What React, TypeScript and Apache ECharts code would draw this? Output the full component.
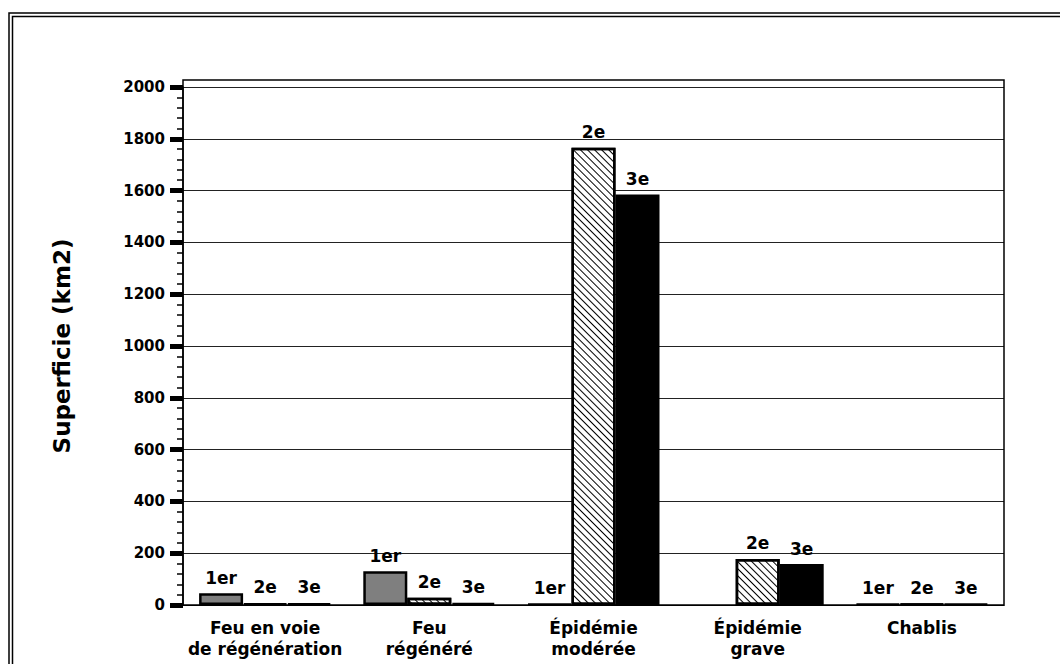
import React, { useEffect, useRef } from "react";
import * as echarts from "echarts";

const categories = [
  "Feu en voie\nde régénération",
  "Feu\nrégénéré",
  "Épidémie\nmodérée",
  "Épidémie\ngrave",
  "Chablis",
];
const seriesNames = ["1er", "2e", "3e"];
const values1er: (number | null)[] = [45, 130, 4, null, 4];
const values2e: (number | null)[] = [6, 28, 1765, 178, 4];
const values3e: (number | null)[] = [6, 8, 1585, 158, 4];
const yTicks = { min: 0, max: 2000, interval: 200 };
const yName = "Superficie (km2)";

const FONT = "DejaVu Sans";

export default function App() {
  const ref = useRef<HTMLDivElement>(null);
  useEffect(() => {
    document.body.style.margin = "0";
    const chart = echarts.init(ref.current!, null, { renderer: "svg" });
    const label = {
      show: true,
      position: "top" as const,
      distance: 7,
      color: "#000",
      fontFamily: FONT,
      fontWeight: "bold" as const,
      fontSize: 17,
      formatter: (p: any) => (p.value == null ? "" : p.seriesName),
    };
    const common = {
      type: "bar" as const,
      barWidth: 44,
      barGap: "0%",
      label,
    };
    chart.setOption({
      animation: false,
      backgroundColor: "#fff",
      grid: { left: 183, right: 56, top: 87, bottom: 59 },
      xAxis: {
        type: "category",
        data: categories,
        axisLine: { show: true, lineStyle: { color: "#000", width: 1 } },
        axisTick: { show: false },
        axisLabel: {
          color: "#000",
          fontFamily: FONT,
          fontWeight: "bold",
          fontSize: 17,
          lineHeight: 21,
          margin: 12,
          interval: 0,
        },
      },
      yAxis: {
        type: "value",
        min: yTicks.min,
        max: yTicks.max,
        interval: yTicks.interval,
        name: yName,
        nameLocation: "middle",
        nameRotate: 90,
        nameGap: 110,
        nameTextStyle: {
          color: "#000",
          fontFamily: FONT,
          fontWeight: "bold",
          fontSize: 23,
        },
        axisLine: { show: true, lineStyle: { color: "#000", width: 1.5 } },
        axisTick: { show: true, length: 13, lineStyle: { color: "#000", width: 5 } },
        minorTick: { show: true, splitNumber: 5, length: 6, lineStyle: { color: "#000", width: 1.5 } },
        axisLabel: {
          color: "#000",
          fontFamily: FONT,
          fontWeight: "bold",
          fontSize: 15,
          margin: 18,
          formatter: (v: number) => String(v),
        },
        splitLine: { show: true, lineStyle: { color: "#222", width: 1 } },
      },
      series: [
        {
          ...common,
          name: seriesNames[0],
          data: values1er,
          itemStyle: { color: "#7f7f7f", borderColor: "#000", borderWidth: 2.5 },
        },
        {
          ...common,
          name: seriesNames[1],
          data: values2e,
          itemStyle: {
            color: "#fff",
            borderColor: "#000",
            borderWidth: 2.5,
            decal: {
              symbol: "rect",
              symbolSize: 1,
              color: "#000",
              backgroundColor: "#fff",
              dashArrayX: [1, 0],
              dashArrayY: [0.9, 3.1],
              rotation: Math.PI / 4,
            },
          },
        },
        {
          ...common,
          name: seriesNames[2],
          data: values3e,
          itemStyle: { color: "#000", borderColor: "#000", borderWidth: 2.5 },
        },
      ],
      graphic: [
        {
          type: "rect",
          silent: true,
          z: 10,
          shape: { x: 183, y: 80, width: 821, height: 525 },
          style: { fill: "none", stroke: "#000", lineWidth: 1.5 },
        },
        {
          type: "polyline",
          silent: true,
          shape: { points: [[9, 664], [9, 13], [1060, 13]] },
          style: { fill: "none", stroke: "#000", lineWidth: 1.5 },
        },
        {
          type: "polyline",
          silent: true,
          shape: { points: [[12.5, 664], [12.5, 16.5], [1060, 16.5]] },
          style: { fill: "none", stroke: "#000", lineWidth: 1.5 },
        },
      ],
    });
    return () => chart.dispose();
  }, []);
  return (
    <div
      ref={ref}
      style={{ position: "fixed", left: 0, top: 0, width: 1060, height: 664 }}
    />
  );
}
